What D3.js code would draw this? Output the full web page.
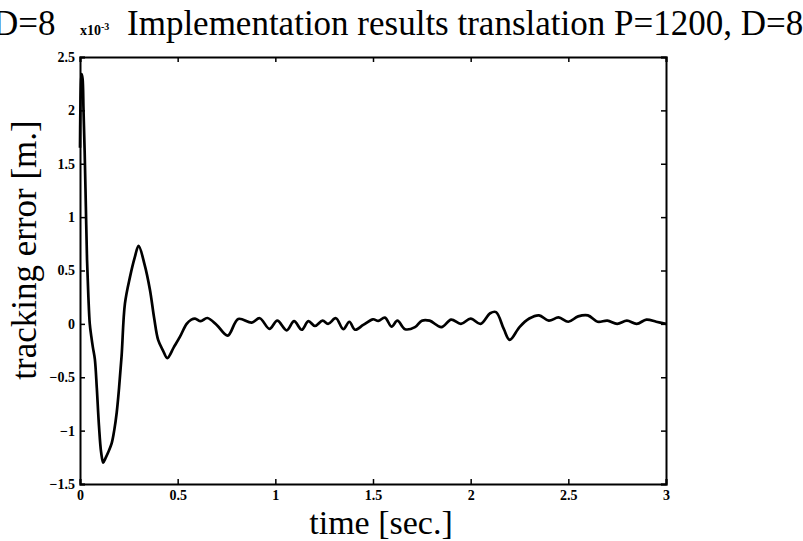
<!DOCTYPE html>
<html>
<head>
<meta charset="utf-8">
<script src="https://cdn.jsdelivr.net/npm/d3@7"></script>
<style>
  body { margin: 0; background: #fff; }
  svg { display: block; }
  text { font-family: "Liberation Serif", "DejaVu Serif", serif; fill: #000; }
</style>
</head>
<body>
<svg id="chart" width="803" height="541"></svg>
<script>
// data (error in units of 1e-3 m)
var time = [0, 0.004, 0.008, 0.013, 0.018, 0.024, 0.03, 0.036, 0.043, 0.05, 0.058, 0.066, 0.076, 0.086, 0.097, 0.108, 0.119, 0.13, 0.145, 0.162, 0.175, 0.188, 0.2, 0.213, 0.23, 0.256, 0.28, 0.3, 0.33, 0.358, 0.38, 0.40, 0.425, 0.447, 0.48, 0.512, 0.546, 0.57, 0.589, 0.618, 0.652, 0.70, 0.756, 0.81, 0.879, 0.92, 0.97, 1.01, 1.058, 1.096, 1.135, 1.169, 1.203, 1.242, 1.27, 1.31, 1.348, 1.379, 1.408, 1.45, 1.50, 1.527, 1.561, 1.595, 1.625, 1.664, 1.715, 1.75, 1.79, 1.85, 1.9, 1.95, 2.0, 2.05, 2.1, 2.13, 2.17, 2.2, 2.25, 2.3, 2.35, 2.4, 2.45, 2.5, 2.55, 2.6, 2.65, 2.7, 2.75, 2.8, 2.85, 2.9, 2.95, 3.0];
var error = [1.65, 2.2, 2.34, 2.3, 2.0, 1.6, 1.1, 0.6, 0.25, 0.0, -0.12, -0.22, -0.33, -0.6, -0.95, -1.2, -1.3, -1.26, -1.2, -1.12, -1.0, -0.83, -0.6, -0.3, 0.19, 0.44, 0.62, 0.73, 0.56, 0.32, 0.05, -0.15, -0.25, -0.32, -0.22, -0.12, 0.0, 0.04, 0.05, 0.025, 0.055, -0.01, -0.11, 0.046, 0.012, 0.053, -0.046, 0.03, -0.06, 0.025, -0.055, 0.025, -0.02, 0.03, 0.0, 0.053, -0.05, 0.02, -0.055, -0.01, 0.043, 0.028, 0.059, -0.025, 0.03, -0.05, -0.03, 0.03, 0.03, -0.03, 0.04, 0.0, 0.05, 0.0, 0.1, 0.11, -0.05, -0.15, -0.03, 0.05, 0.08, 0.03, 0.06, 0.02, 0.07, 0.08, 0.02, 0.03, 0.0, 0.03, 0.0, 0.04, 0.02, 0.0];
var xTicks = [0, 0.5, 1, 1.5, 2, 2.5, 3];
var yTicks = [-1.5, -1, -0.5, 0, 0.5, 1, 1.5, 2, 2.5];

var svg = d3.select('#chart');
// note: "top" is taken by window.top, so the box edges get their own names
var box_left = 80, box_right = 666, box_top = 57, box_bottom = 484;

var x = d3.scaleLinear().domain([0, 3]).range([box_left, box_right]);
var y = d3.scaleLinear().domain([-1.5, 2.5]).range([box_bottom, box_top]);

var pts = time.map(function(t, i) { return [t, error[i]]; });

// curve
var line = d3.line()
    .x(function(d) { return x(d[0]); })
    .y(function(d) { return y(d[1]); })
    .curve(d3.curveCatmullRom.alpha(0.5));

svg.append('path')
    .attr('d', line(pts))
    .attr('fill', 'none')
    .attr('stroke', '#000')
    .attr('stroke-width', 2.7)
    .attr('stroke-linejoin', 'round');

// axes, matlab style: box + ticks pointing inwards
var fmt = d3.format('');
svg.append('g').attr('transform', 'translate(0,' + box_bottom + ')')
    .call(d3.axisBottom(x).tickValues(xTicks).tickSize(-5).tickPadding(6).tickFormat(fmt));
svg.append('g').attr('transform', 'translate(0,' + box_top + ')')
    .call(d3.axisTop(x).tickValues(xTicks).tickSize(-5).tickFormat(''));
svg.append('g').attr('transform', 'translate(' + box_left + ',0)')
    .call(d3.axisLeft(y).tickValues(yTicks).tickSize(-5).tickPadding(5).tickFormat(fmt));
svg.append('g').attr('transform', 'translate(' + box_right + ',0)')
    .call(d3.axisRight(y).tickValues(yTicks).tickSize(-5).tickFormat(''));

svg.selectAll('.domain').attr('stroke', '#000').attr('stroke-width', 2);
svg.selectAll('.tick line').attr('stroke', '#000').attr('stroke-width', 1.5);
svg.selectAll('.tick text')
    .style('font-family', '"Liberation Serif", serif')
    .style('font-weight', 'bold')
    .style('font-size', '14px')
    .attr('fill', '#000');

// exponent
var ex = svg.append('text').attr('x', 80).attr('y', 35)
    .style('font-weight', 'bold').style('font-size', '14px');
ex.append('tspan').text('x10');
ex.append('tspan').attr('dy', -5).style('font-size', '10px').text('-3');

// titles (cut off at the picture edges)
svg.append('text').attr('x', -7).attr('y', 35)
    .style('font-size', '35px').text('D=8');
svg.append('text').attr('x', 127).attr('y', 35)
    .style('font-size', '35px').text('Implementation results translation P=1200, D=8');

// axis labels
svg.append('text').attr('x', 381).attr('y', 533.5)
    .attr('text-anchor', 'middle').style('font-size', '34px').text('time [sec.]');
svg.append('text')
    .attr('transform', 'translate(36,250) rotate(-90)')
    .attr('text-anchor', 'middle').style('font-size', '35px').text('tracking error [m.]');
</script>
</body>
</html>
